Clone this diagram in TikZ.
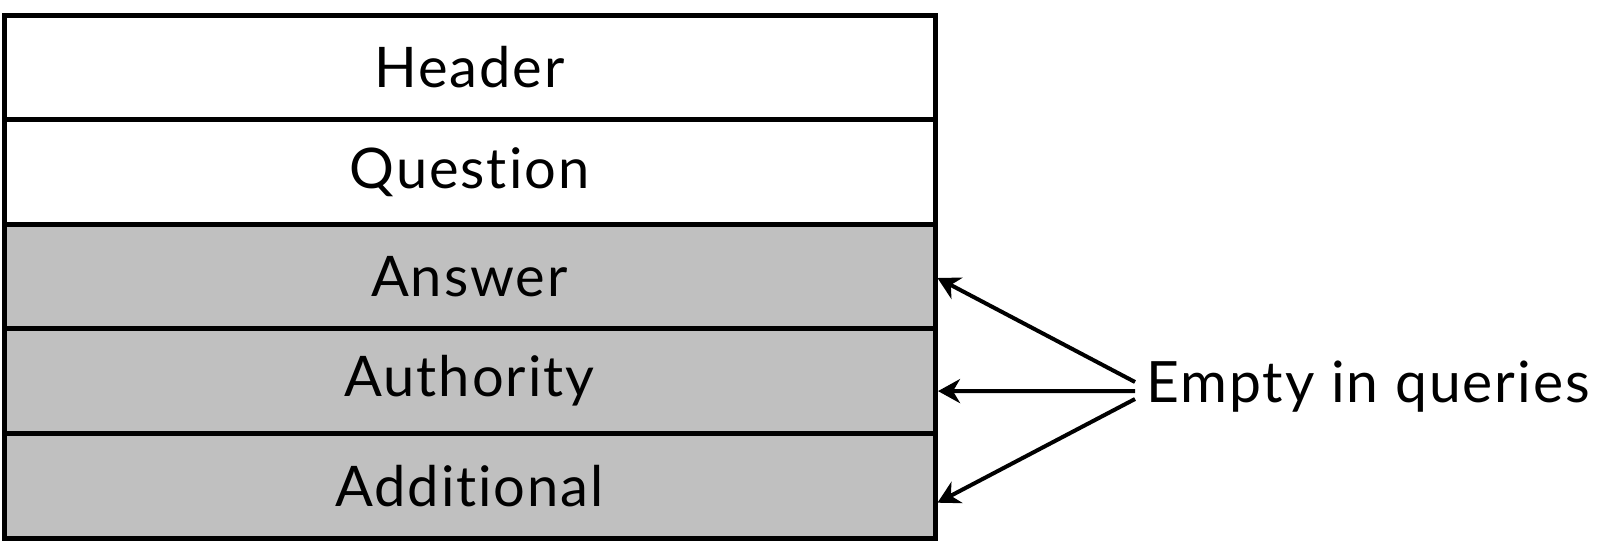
\documentclass[tikz,border=0pt]{standalone}
\usepackage{fontspec}
\setmainfont{Lato}[LetterSpace=3.5,Ligatures={NoCommon}]
\usetikzlibrary{arrows.meta}
\begin{document}
\begin{tikzpicture}[x=1pt,y=-1pt,
  row/.style={draw=black,line width=5pt,minimum width=931pt,minimum height=104.6pt,inner sep=0pt,outer sep=0pt,anchor=north west,font=\fontsize{56}{60}\selectfont},
  shaded/.style={row,fill=graybox},
  ptr/.style={line width=4pt,-{Stealth[length=22pt,width=24pt,inset=7pt]}}]
\definecolor{graybox}{HTML}{C0C0C0}
\useasboundingbox (0,0) rectangle (1597,549);
\node[row] (hdr) at (4,15) {Header};
\node[row] (q) at (4,119.6) {Question};
\node[shaded] (ans) at (4,224.2) {Answer};
\node[shaded] (auth) at (4,328.8) {Authority};
\node[shaded] (add) at (4,433.4) {Additional};
\node[anchor=base west,inner sep=0pt,outer sep=0pt,font=\fontsize{57}{60}\selectfont] (lbl) at (1146,402) {Empty in queries};
\draw[ptr] ([xshift=-11pt,yshift=20pt]lbl.base west) -- ([xshift=2.5pt,yshift=-1.5pt]ans.east);
\draw[ptr] ([xshift=-11pt,yshift=11pt]lbl.base west) -- ([xshift=3pt,yshift=-10pt]auth.east);
\draw[ptr] ([xshift=-11pt,yshift=3pt]lbl.base west) -- ([xshift=2.5pt,yshift=-17pt]add.east);
\end{tikzpicture}
\end{document}
